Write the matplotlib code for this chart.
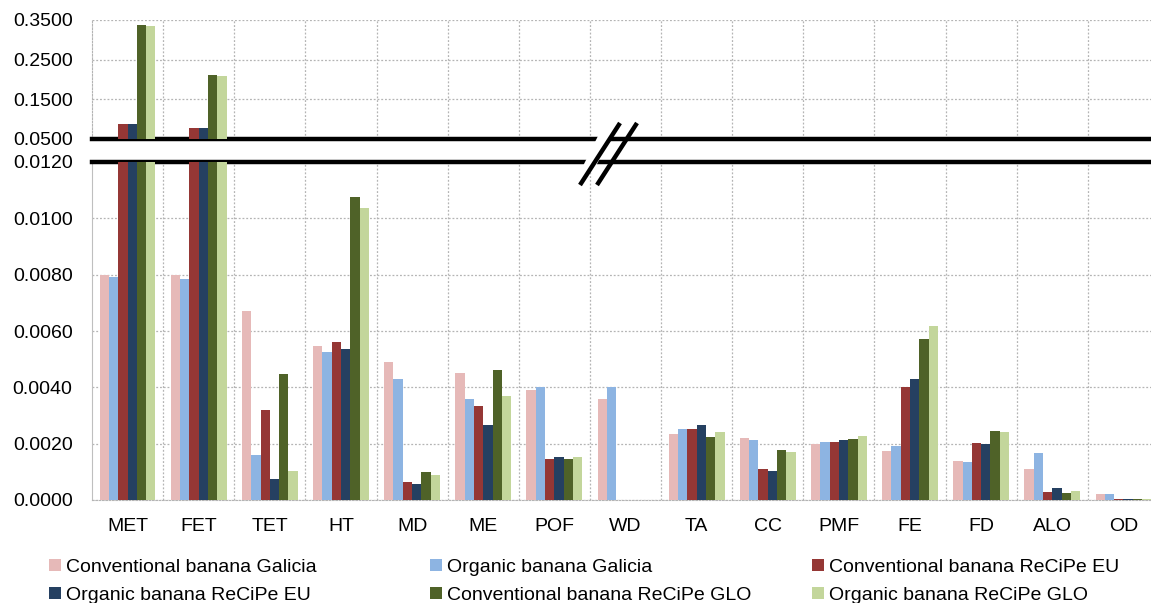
import matplotlib
matplotlib.use('Agg')
import matplotlib.pyplot as plt
import numpy as np
from matplotlib.patches import Patch, Polygon
from matplotlib.lines import Line2D

plt.rcParams['font.family'] = ['Liberation Sans', 'DejaVu Sans']

categories = ['MET', 'FET', 'TET', 'HT', 'MD', 'ME', 'POF', 'WD',
              'TA', 'CC', 'PMF', 'FE', 'FD', 'ALO', 'OD']

conv_galicia = [0.0080, 0.0080, 0.0067, 0.00545, 0.0049, 0.0045, 0.0039, 0.0036,
                0.00235, 0.0022, 0.0020, 0.00175, 0.0014, 0.0011, 0.00023]
org_galicia = [0.0079, 0.00785, 0.0016, 0.00525, 0.0043, 0.0036, 0.0040, 0.0040,
               0.00253, 0.00212, 0.00205, 0.0019, 0.00134, 0.00166, 0.00023]
conv_eu = [0.089, 0.078, 0.0032, 0.0056, 0.00063, 0.00335, 0.00145, 0.0,
           0.00253, 0.0011, 0.00205, 0.0040, 0.00202, 0.00027, 0.00003]
org_eu = [0.089, 0.078, 0.00075, 0.00537, 0.00057, 0.00266, 0.00152, 0.0,
          0.00266, 0.00104, 0.00214, 0.00428, 0.00199, 0.00041, 0.00003]
conv_glo = [0.337, 0.212, 0.00447, 0.01075, 0.0010, 0.00462, 0.00145, 0.0,
            0.00225, 0.00178, 0.00218, 0.00572, 0.00246, 0.00024, 0.00003]
org_glo = [0.334, 0.209, 0.00104, 0.01038, 0.00089, 0.00369, 0.00152, 0.0,
           0.0024, 0.00169, 0.00226, 0.00618, 0.00243, 0.00032, 0.00002]

series_names = ['Conventional banana Galicia', 'Organic banana Galicia',
                'Conventional banana ReCiPe EU', 'Organic banana ReCiPe EU',
                'Conventional banana ReCiPe GLO', 'Organic banana ReCiPe GLO']
series_values = [conv_galicia, org_galicia, conv_eu, org_eu, conv_glo, org_glo]
colors = ['#E6B9B8', '#8DB4E2', '#953735', '#254061', '#4F6228', '#C3D69B']

W, H = 1151, 603
fig = plt.figure(figsize=(W / 100, H / 100), dpi=100)


def fx(px):
    return px / W


def fy(py):
    return 1 - py / H


left = fx(92)
width = fx(1159) - left
ax_lo = fig.add_axes([left, fy(500), width, fy(162) - fy(500)])
ax_hi = fig.add_axes([left, fy(139), width, fy(20) - fy(139)])

x = np.arange(len(categories))
bw = 0.785 / 6
grid_kw = dict(color='#B4B4B4', linestyle=(0, (1.5, 1.5)), linewidth=0.9)

for ax in (ax_lo, ax_hi):
    for i, (vals, c) in enumerate(zip(series_values, colors)):
        ax.bar(x + (i - 2.5) * bw, vals, width=bw, color=c, zorder=3)
    ax.set_xlim(-0.5, len(categories) - 0.5)
    ax.set_xticks(np.arange(0.5, len(categories) - 0.5), minor=True)
    ax.grid(True, which='minor', axis='x', **grid_kw)
    ax.grid(True, which='major', axis='y', **grid_kw)
    ax.tick_params(axis='both', which='both', length=0, labelsize=14)
    ax.tick_params(axis='y', pad=14)
    ax.spines['right'].set_visible(False)
    ax.set_axisbelow(True)

ax_lo.set_ylim(0, 0.012)
ax_lo.set_yticks(np.arange(0, 0.0121, 0.002))
ax_lo.yaxis.set_major_formatter(matplotlib.ticker.FormatStrFormatter('%.4f'))
ax_lo.set_xticks(x)
ax_lo.set_xticklabels(categories)
ax_lo.tick_params(axis='x', pad=13)
ax_lo.spines['top'].set_linewidth(3.2)
ax_lo.spines['top'].set_color('black')
ax_lo.spines['left'].set_color('#BFBFBF')
ax_lo.spines['bottom'].set_color('#B4B4B4')
ax_lo.spines['bottom'].set_linestyle((0, (1.5, 1.5)))

ax_hi.set_ylim(0.05, 0.35)
ax_hi.set_yticks([0.05, 0.15, 0.25, 0.35])
ax_hi.yaxis.set_major_formatter(matplotlib.ticker.FormatStrFormatter('%.4f'))
ax_hi.set_xticks([])
ax_hi.spines['top'].set_visible(False)
ax_hi.spines['bottom'].set_linewidth(3.2)
ax_hi.spines['bottom'].set_color('black')
ax_hi.spines['left'].set_color('#B4B4B4')
ax_hi.spines['left'].set_linestyle((0, (1.5, 1.5)))

# axis break mark "//"
gap = Polygon([(fx(583), fy(166)), (fx(599), fy(134)), (fx(612), fy(134)), (fx(596), fy(166))],
              closed=True, transform=fig.transFigure, facecolor='white', edgecolor='none', zorder=10)
fig.add_artist(gap)
for dx in (0, 17):
    fig.add_artist(Line2D([fx(580 + dx), fx(620 + dx)], [fy(185), fy(123)],
                          transform=fig.transFigure, color='black', lw=3.2,
                          solid_capstyle='butt', zorder=11))

# legend, 3 columns x 2 rows
handles = [Patch(facecolor=c, edgecolor='none') for c in colors]
col_x = [49, 430, 812]
for k in range(3):
    idx = [k, k + 3]
    fig.legend([handles[i] for i in idx], [series_names[i] for i in idx],
               loc='upper left', bbox_to_anchor=(fx(col_x[k]), fy(559)),
               frameon=False, fontsize=14, handlelength=0.6, handleheight=0.6,
               handletextpad=0.28, labelspacing=0.56, borderpad=0, borderaxespad=0)

fig.savefig('out.png', dpi=100)
